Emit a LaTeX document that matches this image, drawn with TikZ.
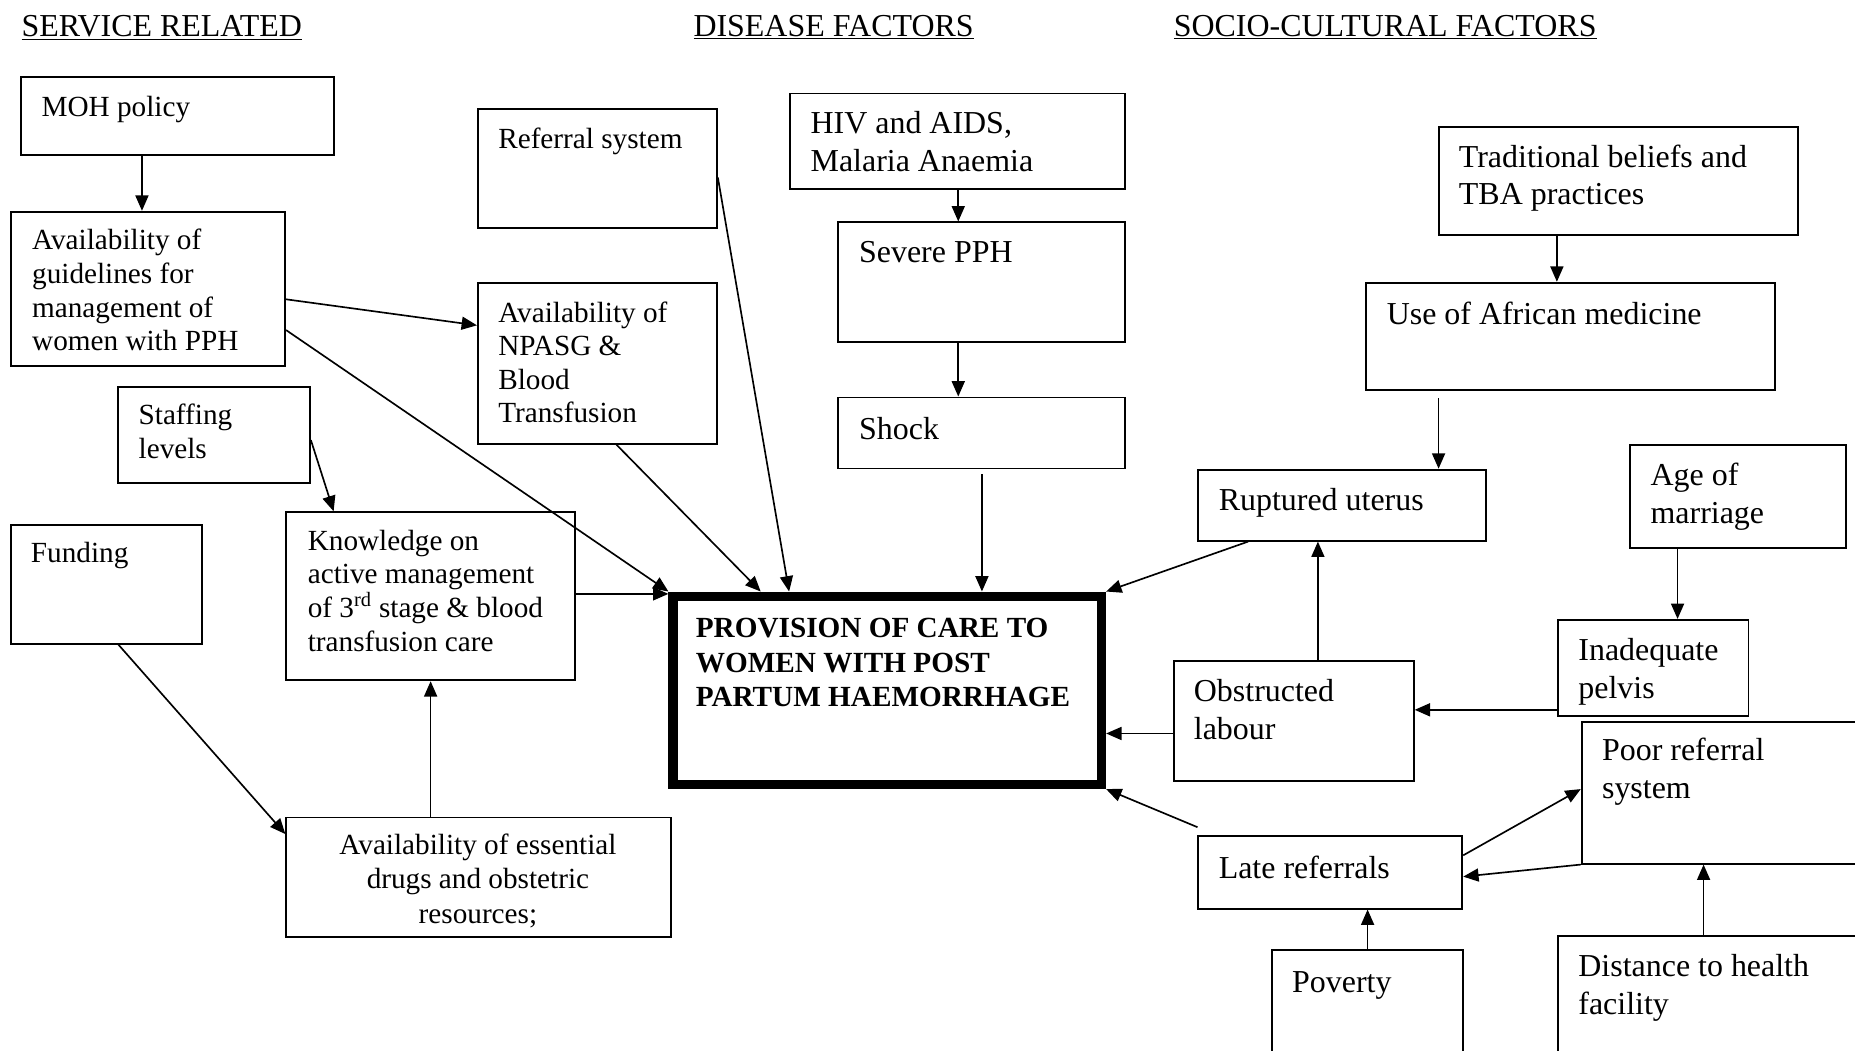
\documentclass[tikz,border=0pt]{standalone}
\usepackage{fontspec}
\setmainfont{Liberation Serif}
\usetikzlibrary{arrows.meta,calc}
\newcommand\fS{\fontsize{24.7}{28.4}\selectfont}
\newcommand\fM{\fontsize{24.7}{29}\selectfont}
\newcommand\fL{\fontsize{27}{32}\selectfont}
\tikzset{
 bx/.style={draw, line width=1.6pt, inner sep=0pt},
 tsm/.style={inner sep=0pt, anchor=north west, align=left, font=\fS},
 tmd/.style={inner sep=0pt, anchor=north west, align=left, font=\fM},
 tlg/.style={inner sep=0pt, anchor=north west, align=left, font=\fL},
 hdr/.style={inner sep=0pt, anchor=base west, font=\fL},
 arr/.style={line width=1.4pt, -{Triangle[length=13pt,width=11pt]}},
}
% box: name, x1, y1, x2, y2
\newcommand\mybox[5]{\node[bx, minimum width={(#4)-(#2)}, minimum height={(#5)-(#3)}] (#1) at ({((#2)+(#4))/2},{((#3)+(#5))/2}) {};}
% small text: name, x, baseline, text
\newcommand\txS[4]{\node[tsm] (#1) at (#2,{(#3)-19.88}) {\strut #4};}
% large text
\newcommand\txL[4]{\node[tlg] (#1) at (#2,{(#3)-22.4}) {\strut #4};}
\begin{document}
\begin{tikzpicture}[x=1pt,y=-1pt]
\path[use as bounding box] (0,0) rectangle (1568,888);
\clip (0,0) rectangle (1568,888);
\fill[white] (0,0) rectangle (1568,888);

% headers
\node[hdr] (h1) at (18,31) {\underline{SERVICE RELATED}};
\node[hdr] (h2) at (586,31) {\underline{DISEASE FACTORS}};
\node[hdr] (h3) at (992,31) {\underline{SOCIO-CULTURAL FACTORS}};

% service related boxes
\mybox{moh}{18}{65}{282}{131}
\txS{mohT}{35}{98}{MOH policy}
\mybox{guide}{9}{179}{241}{309}
\txS{guideT}{27}{211}{Availability of\\guidelines for\\management of\\women with PPH}
\mybox{refs}{404}{92}{606}{193}
\txS{refsT}{421}{125}{Referral system}
\mybox{npasg}{404}{239}{606}{375}
\txS{npasgT}{421}{272}{Availability of\\NPASG \&\\Blood\\Transfusion}
\mybox{staff}{100}{327}{262}{408}
\txS{staffT}{117}{359}{Staffing\\levels}
\mybox{fund}{9}{444}{171}{544}
\txS{fundT}{26}{475}{Funding}
\mybox{know}{242}{433}{486}{575}
\txS{knowT}{260}{465}{Knowledge on\\active management\\of 3\textsuperscript{rd} stage \& blood\\transfusion care}
\mybox{ess}{242}{691}{567}{792}
\node[tmd, anchor=north, align=center] (essT) at (404,{722-20.3}) {\strut Availability of essential\\drugs and obstetric\\resources;};

% main box
\node[draw, line width=8pt, inner sep=0pt, minimum width=362, minimum height=159] (main) at (750,583.5) {};
\node[tmd, font=\fM\bfseries] (mainT) at (588,{539-20.3}) {\strut PROVISION OF CARE TO\\WOMEN WITH POST\\PARTUM HAEMORRHAGE};

% disease factors
\mybox{hiv}{668}{79}{951}{160}
\txL{hivT}{685}{113}{HIV and AIDS,\\Malaria Anaemia}
\mybox{severe}{708}{188}{951}{289}
\txL{severeT}{726}{222}{Severe PPH}
\mybox{shock}{708}{336}{951}{396}
\txL{shockT}{726}{371}{Shock}

% socio-cultural
\mybox{trad}{1216}{107}{1520}{199}
\txL{tradT}{1233}{141}{Traditional beliefs and\\TBA practices}
\mybox{afr}{1155}{239}{1500}{330}
\txL{afrT}{1172}{274}{Use of African medicine}
\mybox{rupt}{1013}{397}{1256}{457}
\txL{ruptT}{1030}{431}{Ruptured uterus}
\mybox{age}{1378}{376}{1560}{463}
\txL{ageT}{1395}{410}{Age of\\marriage}
\mybox{inad}{1317}{524}{1478}{605}
\txL{inadT}{1334}{558}{Inadequate\\pelvis}
\mybox{obst}{992}{559}{1195}{660}
\txL{obstT}{1009}{593}{Obstructed\\labour}
\mybox{poor}{1337}{610}{1600}{730}
\txL{poorT}{1354}{643}{Poor referral\\system}
\mybox{late}{1013}{707}{1236}{768}
\txL{lateT}{1030}{742}{Late referrals}
\mybox{pov}{1075}{803}{1237}{910}
\txL{povT}{1092}{839}{Poverty}
\mybox{dist}{1317}{791}{1600}{910}
\txL{distT}{1334}{825}{Distance to health\\facility}

% connectors
\draw[arr] (moh.south -| 120,0) -- (guide.north -| 120,0);
\draw[arr] (guide.east |- 0,253) -- (npasg.west |- 0,275);
\draw[arr] (guide.east |- 0,279) -- (main.north west);
\draw[arr] (staff.east |- 0,372) -- (know.north -| 282,0);
\draw[arr] (know.east |- 0,502) -- (main.west |- 0,502);
\draw[arr] (fund.south -| 100,0) -- (ess.west |- 0,705);
\draw[arr] (ess.north -| 364,0) -- (know.south -| 364,0);
\draw[arr] (npasg.south -| 521,0) -- (main.north -| 643,0);
\draw[arr] (refs.east |- 0,150) -- (main.north -| 667,0);
\draw[arr] (hiv.south -| 810,0) -- (severe.north -| 810,0);
\draw[arr] (severe.south -| 810,0) -- (shock.north -| 810,0);
\draw[arr] ($(shock.south -| 830,0)+(0,4)$) -- (main.north -| 830,0);
\draw[arr] (trad.south -| 1316,0) -- (afr.north -| 1316,0);
\draw[arr] ($(afr.south -| 1216,0)+(0,6)$) -- (rupt.north -| 1216,0);
\draw[arr] (rupt.south -| 1055,0) -- (main.north east);
\draw[arr] (age.south -| 1418,0) -- (inad.north -| 1418,0);
\draw[arr] (inad.west |- 0,600) -- (obst.east |- 0,600);
\draw[arr] (obst.north -| 1114,0) -- (rupt.south -| 1114,0);
\draw[arr] (obst.west |- 0,620) -- (main.east |- 0,620);
\draw[arr] ($(late.north west)+(0,-7)$) -- (main.south east);
\draw[arr] (late.east |- 0,723) -- (poor.west |- 0,667);
\draw[arr] (poor.south west) -- (late.east |- 0,741);
\draw[arr] (pov.north -| 1156,0) -- (late.south -| 1156,0);
\draw[arr] (dist.north -| 1440,0) -- (poor.south -| 1440,0);
\end{tikzpicture}
\end{document}
